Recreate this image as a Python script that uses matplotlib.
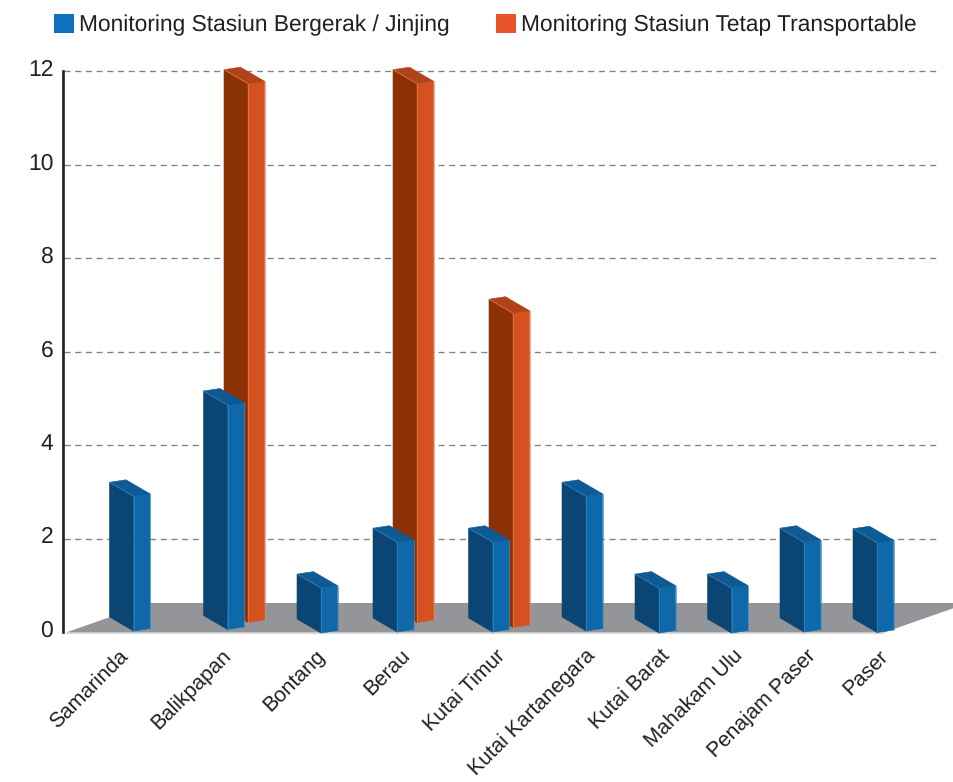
import matplotlib
matplotlib.use("Agg")
import matplotlib.pyplot as plt
from matplotlib.patches import Patch, Polygon
from matplotlib.transforms import ScaledTranslation

categories = ['Samarinda', 'Balikpapan', 'Bontang', 'Berau', 'Kutai Timur', 'Kutai Kartanegara',
              'Kutai Barat', 'Mahakam Ulu', 'Penajam Paser', 'Paser']
jinjing = [3, 5, 1, 2, 2, 3, 1, 1, 2, 2]
tetap = [0, 12, 0, 12, 7, 0, 0, 0, 0, 0]
y_ticks = [0, 2, 4, 6, 8, 10, 12]
legend_labels = ['Monitoring Stasiun Bergerak / Jinjing', 'Monitoring Stasiun Tetap Transportable']

# layout, all in pixels of the 954x782 picture
W, H = 954, 782
AX_LEFT, AX_TOP, AX_BOTTOM = 63, 71, 632
PX_PER_UNIT = (AX_BOTTOM - AX_TOP) / 12
BAR_PX_PER_UNIT = 44.9  # bars are drawn a bit shorter than the grid
blue_front = [133.5, 227.5, 321, 397, 492.5, 586, 659, 731.5, 804, 877]
blue_base = [631, 629.5, 633, 632, 632, 631, 633, 633, 632, 632.5]
orange_front = {1: 248, 3: 417, 4: 513}
orange_base = {1: 622.5, 3: 622.5, 4: 627.5}
label_x = [118, 221, 315, 400, 495, 585, 660, 733, 806, 878]

BLUE = ('#0a4574', '#0f68aa', '#0d5a94', '#3f8fc9')
ORANGE = ('#8c3006', '#d65120', '#b04318', '#ec8a62')


def py(pixel):
    return (AX_BOTTOM - pixel) / PX_PER_UNIT


def draw_bar(ax, front, base, value, colors, z):
    left_c, right_c, top_c, edge_c = colors
    h = value * BAR_PX_PER_UNIT
    fl = (front - 24, base - 14)
    fr = (front + 16.5, base - 2.5)
    back = (front - 7.5, base - 16.5)
    fb = (front, base)

    def up(p, d):
        return (p[0], py(p[1] - d))

    left = [up(fl, 0), up(fb, 0), up(fb, h), up(fl, h)]
    right = [up(fb, 0), up(fr, 0), up(fr, h), up(fb, h)]
    top = [up(fl, h), up(fb, h), up(fr, h), up(back, h)]
    ax.add_patch(Polygon(left, fc=left_c, ec=left_c, lw=0.4, zorder=z, clip_on=False))
    ax.add_patch(Polygon(right, fc=right_c, ec=right_c, lw=0.4, zorder=z, clip_on=False))
    ax.add_patch(Polygon(top, fc=top_c, ec=top_c, lw=0.4, zorder=z, clip_on=False))
    ax.plot([fr[0], fr[0]], [py(fr[1]), py(fr[1] - h)], color=edge_c, lw=0.5, zorder=z, clip_on=False)
    ax.plot([fb[0], fb[0]], [py(fb[1]), py(fb[1] - h)], color=edge_c, lw=0.4, zorder=z, clip_on=False)
    ax.plot([fl[0], fb[0]], [py(fl[1] - h), py(fb[1] - h)], color=edge_c, lw=0.4, zorder=z, clip_on=False)


plt.rcParams['font.family'] = ['Liberation Sans', 'DejaVu Sans']
plt.rcParams['text.hinting'] = 'none'
fig = plt.figure(figsize=(W / 100, H / 100), dpi=100)
ax = fig.add_axes([AX_LEFT / W, 1 - AX_BOTTOM / H, (W - AX_LEFT) / W, (AX_BOTTOM - AX_TOP) / H])
ax.set_xlim(AX_LEFT, W)
ax.set_ylim(0, 12)

for t in y_ticks[1:]:
    ax.plot([AX_LEFT + 1, 936], [t, t], color='#808285', lw=0.95, dashes=(4.6, 3.5), zorder=1, clip_on=False)

floor = [(66, py(632.5)), (150, py(603)), (W, py(603)), (W, py(608)), (884, py(632.5))]
ax.add_patch(Polygon(floor, fc='#939598', ec='none', zorder=2, clip_on=False))
ax.plot([66, 884], [py(633), py(633)], color='#d8d9da', lw=0.8, zorder=2, clip_on=False)

for i, val in enumerate(tetap):
    if val > 0:
        draw_bar(ax, orange_front[i], orange_base[i], val, ORANGE, 3)
for i, val in enumerate(jinjing):
    draw_bar(ax, blue_front[i], blue_base[i], val, BLUE, 4)

for s in ['top', 'right', 'bottom']:
    ax.spines[s].set_visible(False)
ax.spines['left'].set_linewidth(1.9)
ax.spines['left'].set_color('#231f20')

ax.set_yticks(y_ticks)
ax.tick_params(axis='y', length=0, pad=7, labelsize=16.5, labelcolor='#231f20')
# numbers sit a little above their gridlines
nudge = ScaledTranslation(0, 2.5 / 72, fig.dpi_scale_trans)
for lab in ax.get_yticklabels():
    lab.set_transform(lab.get_transform() + nudge)

ax.set_xticks(label_x)
ax.set_xticklabels(categories, rotation=45, ha='right', va='top', rotation_mode='anchor',
                   fontsize=15.1, color='#231f20')
ax.tick_params(axis='x', length=0, pad=10)

handles = [Patch(fc='#0f72bc', ec='none'), Patch(fc='#e9552b', ec='none')]
fig.legend(handles, legend_labels, ncol=2, frameon=False, fontsize=16.4, labelcolor='#231f20',
           loc='upper left', bbox_to_anchor=(54 / W, 1 - 14 / H), handlelength=0.88, handleheight=0.88,
           handletextpad=0.22, columnspacing=2.05, borderpad=0, borderaxespad=0)

fig.savefig('out.png', dpi=100)
